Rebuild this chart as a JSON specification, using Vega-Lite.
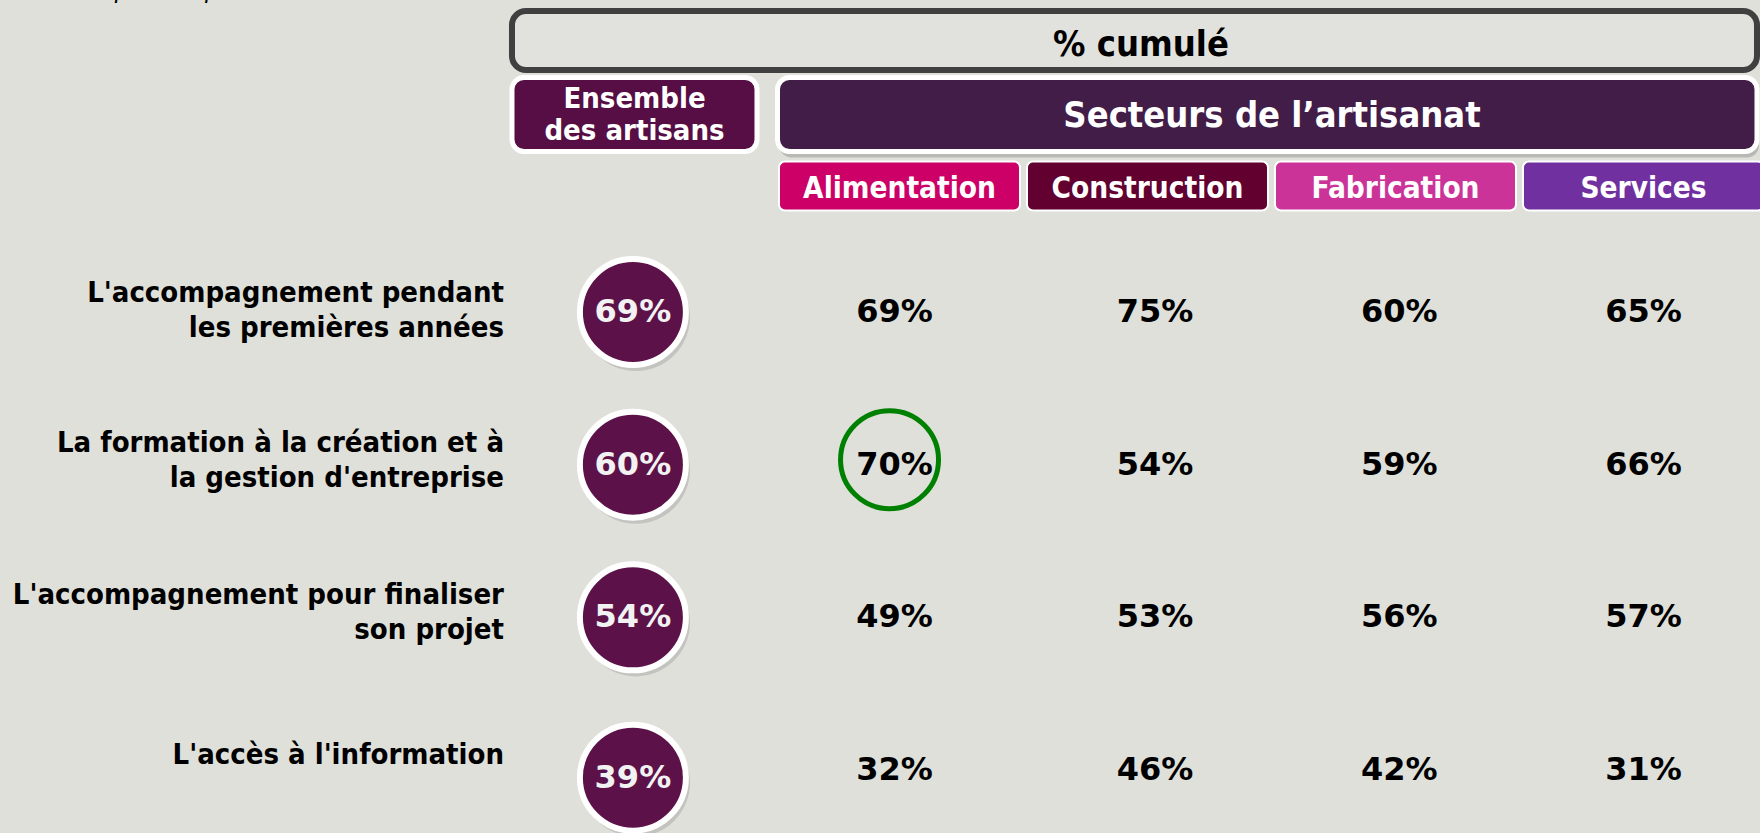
{
  "$schema": "https://vega.github.io/schema/vega-lite/v6.json",
  "width": 1760,
  "height": 833,
  "autosize": {"type": "none"},
  "padding": 0,
  "background": "#dfe0da",
  "config": {"view": {"stroke": null}},
  "datasets": {
    "valeurs": [
      {"question": 1, "row": 1, "secteur": "Alimentation", "col": 0.98, "value": 0.69},
      {"question": 1, "row": 1, "secteur": "Construction", "col": 2.03, "value": 0.75},
      {"question": 1, "row": 1, "secteur": "Fabrication", "col": 3.015, "value": 0.60},
      {"question": 1, "row": 1, "secteur": "Services", "col": 4, "value": 0.65},
      {"question": 2, "row": 2, "secteur": "Alimentation", "col": 0.98, "value": 0.70},
      {"question": 2, "row": 2, "secteur": "Construction", "col": 2.03, "value": 0.54},
      {"question": 2, "row": 2, "secteur": "Fabrication", "col": 3.015, "value": 0.59},
      {"question": 2, "row": 2, "secteur": "Services", "col": 4, "value": 0.66},
      {"question": 3, "row": 3, "secteur": "Alimentation", "col": 0.98, "value": 0.49},
      {"question": 3, "row": 3, "secteur": "Construction", "col": 2.03, "value": 0.53},
      {"question": 3, "row": 3, "secteur": "Fabrication", "col": 3.015, "value": 0.56},
      {"question": 3, "row": 3, "secteur": "Services", "col": 4, "value": 0.57},
      {"question": 4, "row": 4, "secteur": "Alimentation", "col": 0.98, "value": 0.32},
      {"question": 4, "row": 4, "secteur": "Construction", "col": 2.03, "value": 0.46},
      {"question": 4, "row": 4, "secteur": "Fabrication", "col": 3.015, "value": 0.42},
      {"question": 4, "row": 4, "secteur": "Services", "col": 4, "value": 0.31}
    ],
    "ensemble": [
      {"question": 1, "row": 1, "col": -0.075, "value": 0.69},
      {"question": 2, "row": 2, "col": -0.075, "value": 0.60},
      {"question": 3, "row": 3, "col": -0.075, "value": 0.54},
      {"question": 4, "row": 4.05, "col": -0.075, "value": 0.39}
    ],
    "questions": [
      {"question": 1, "libelle": "L'accompagnement pendant|les premières années", "row": 0.8755, "col": -0.5948},
      {"question": 2, "libelle": "La formation à la création et à|la gestion d'entreprise", "row": 1.858, "col": -0.5948},
      {"question": 3, "libelle": "L'accompagnement pour finaliser|son projet", "row": 2.854, "col": -0.5948},
      {"question": 4, "libelle": "L'accès à l'information", "row": 3.902, "col": -0.5948}
    ],
    "highlight": [
      {"question": 2, "secteur": "Alimentation", "row": 2, "col": 0.98}
    ],
    "note": [
      {"texte": "Plusieurs réponses possibles", "row": -1.0633, "col": -1.365}
    ],
    "cadreTitre": [
      {"nom": "% cumulé", "col": -0.5625, "col2": 4.4577, "row": -0.9716, "row2": -0.5851}
    ],
    "cadres": [
      {"nom": "Ensemble des artisans", "col": -0.5625, "col2": 0.4254, "row": -0.536, "row2": -0.0513},
      {"nom": "Secteurs de l’artisanat", "col": 0.5081, "col2": 4.4577, "row": -0.536, "row2": -0.0513}
    ],
    "cadresSecteurs": [
      {"nom": "Alimentation", "col": 0.5141, "col2": 1.4859, "row": 0.0142, "row2": 0.3352},
      {"nom": "Construction", "col": 1.5141, "col2": 2.4859, "row": 0.0142, "row2": 0.3352},
      {"nom": "Fabrication", "col": 2.5141, "col2": 3.4859, "row": 0.0142, "row2": 0.3352},
      {"nom": "Services", "col": 3.5141, "col2": 4.4859, "row": 0.0142, "row2": 0.3352}
    ],
    "titres": [
      {"nom": "% cumulé", "col": 1.9738, "row": -0.746}
    ],
    "titresBlancs": [
      {"nom": "Secteurs de l’artisanat", "col": 2.502, "row": -0.2838}
    ],
    "titreEnsemble": [
      {"nom": "Ensemble|des artisans", "col": -0.0685, "row": -0.3952}
    ],
    "titresSecteurs": [
      {"nom": "Alimentation", "col": 1, "row": 0.1944},
      {"nom": "Construction", "col": 2, "row": 0.1944},
      {"nom": "Fabrication", "col": 3, "row": 0.1944},
      {"nom": "Services", "col": 4, "row": 0.1944}
    ]
  },
  "encoding": {
    "x": {"field": "col", "type": "quantitative", "scale": {"domain": [-2.627, 4.4698], "nice": false, "zero": false}, "axis": null},
    "y": {"field": "row", "type": "quantitative", "scale": {"domain": [-1.0436, 4.4126], "nice": false, "zero": false, "reverse": true}, "axis": null}
  },
  "layer": [
    {
      "data": {"name": "note"},
      "mark": {"type": "text", "align": "right", "baseline": "alphabetic", "font": "DejaVu Sans Condensed", "fontStyle": "italic", "fontSize": 26, "color": "#000000"},
      "encoding": {"text": {"field": "texte"}}
    },
    {
      "data": {"name": "cadreTitre"},
      "mark": {"type": "rect", "fill": "#e1e2dd", "stroke": "#404040", "strokeWidth": 6, "cornerRadius": 14},
      "encoding": {"x2": {"field": "col2"}, "y2": {"field": "row2"}}
    },
    {
      "data": {"name": "cadres"},
      "transform": [{"filter": "datum.nom === 'Secteurs de l’artisanat'"}],
      "mark": {"type": "rect", "fill": "#8a8a88", "opacity": 0.45, "yOffset": 6, "y2Offset": 6, "xOffset": 2, "x2Offset": 2, "cornerRadius": 12},
      "encoding": {"x2": {"field": "col2"}, "y2": {"field": "row2"}}
    },
    {
      "data": {"name": "cadres"},
      "mark": {"type": "rect", "stroke": "#ffffff", "strokeWidth": 5, "cornerRadius": 12},
      "encoding": {
        "x2": {"field": "col2"},
        "y2": {"field": "row2"},
        "fill": {"field": "nom", "type": "nominal", "legend": null,
          "scale": {"domain": ["Ensemble des artisans", "Secteurs de l’artisanat", "Alimentation", "Construction", "Fabrication", "Services"],
                    "range": ["#570e44", "#411d48", "#cc0066", "#620030", "#cc3399", "#7030a0"]}}
      }
    },
    {
      "data": {"name": "cadresSecteurs"},
      "mark": {"type": "rect", "stroke": "#ffffff", "strokeWidth": 2, "cornerRadius": 6},
      "encoding": {
        "x2": {"field": "col2"},
        "y2": {"field": "row2"},
        "fill": {"field": "nom", "type": "nominal", "legend": null,
          "scale": {"domain": ["Ensemble des artisans", "Secteurs de l’artisanat", "Alimentation", "Construction", "Fabrication", "Services"],
                    "range": ["#570e44", "#411d48", "#cc0066", "#620030", "#cc3399", "#7030a0"]}}
      }
    },
    {
      "data": {"name": "titres"},
      "mark": {"type": "text", "align": "center", "baseline": "middle", "font": "DejaVu Sans Condensed", "fontWeight": "bold", "fontSize": 36, "color": "#000000"},
      "encoding": {"text": {"field": "nom"}}
    },
    {
      "data": {"name": "titresBlancs"},
      "mark": {"type": "text", "align": "center", "baseline": "middle", "font": "DejaVu Sans Condensed", "fontWeight": "bold", "fontSize": 36, "color": "#ffffff"},
      "encoding": {"text": {"field": "nom"}}
    },
    {
      "data": {"name": "titreEnsemble"},
      "mark": {"type": "text", "align": "center", "baseline": "middle", "font": "DejaVu Sans Condensed", "fontWeight": "bold", "fontSize": 29, "lineHeight": 32, "lineBreak": "|", "color": "#ffffff"},
      "encoding": {"text": {"field": "nom"}}
    },
    {
      "data": {"name": "titresSecteurs"},
      "mark": {"type": "text", "align": "center", "baseline": "middle", "font": "DejaVu Sans Condensed", "fontWeight": "bold", "fontSize": 29.5, "color": "#ffffff"},
      "encoding": {"text": {"field": "nom"}}
    },
    {
      "data": {"name": "questions"},
      "mark": {"type": "text", "align": "right", "baseline": "middle", "font": "DejaVu Sans Condensed", "fontWeight": "bold", "fontSize": 29, "lineHeight": 35, "lineBreak": "|", "color": "#000000"},
      "encoding": {"text": {"field": "libelle"}}
    },
    {
      "data": {"name": "ensemble"},
      "mark": {"type": "point", "shape": "circle", "filled": true, "fill": "#8f8f8c", "opacity": 0.35, "size": 11700, "xOffset": 3, "yOffset": 5, "strokeWidth": 0}
    },
    {
      "data": {"name": "ensemble"},
      "mark": {"type": "point", "shape": "circle", "filled": true, "fill": "#5c1249", "opacity": 1, "stroke": "#ffffff", "strokeWidth": 6, "strokeOpacity": 1, "size": 11236}
    },
    {
      "data": {"name": "ensemble"},
      "mark": {"type": "text", "align": "center", "baseline": "middle", "font": "DejaVu Sans", "fontWeight": "bold", "fontSize": 32, "color": "#f2f2f2"},
      "encoding": {"text": {"field": "value", "type": "quantitative", "format": ".0%"}}
    },
    {
      "data": {"name": "valeurs"},
      "mark": {"type": "text", "align": "center", "baseline": "middle", "font": "DejaVu Sans", "fontWeight": "bold", "fontSize": 32, "color": "#000000"},
      "encoding": {"text": {"field": "value", "type": "quantitative", "format": ".0%"}}
    },
    {
      "data": {"name": "highlight"},
      "mark": {"type": "point", "shape": "circle", "filled": false, "stroke": "#008000", "strokeWidth": 5, "opacity": 1, "size": 9600, "xOffset": -5, "yOffset": -5}
    }
  ]
}
